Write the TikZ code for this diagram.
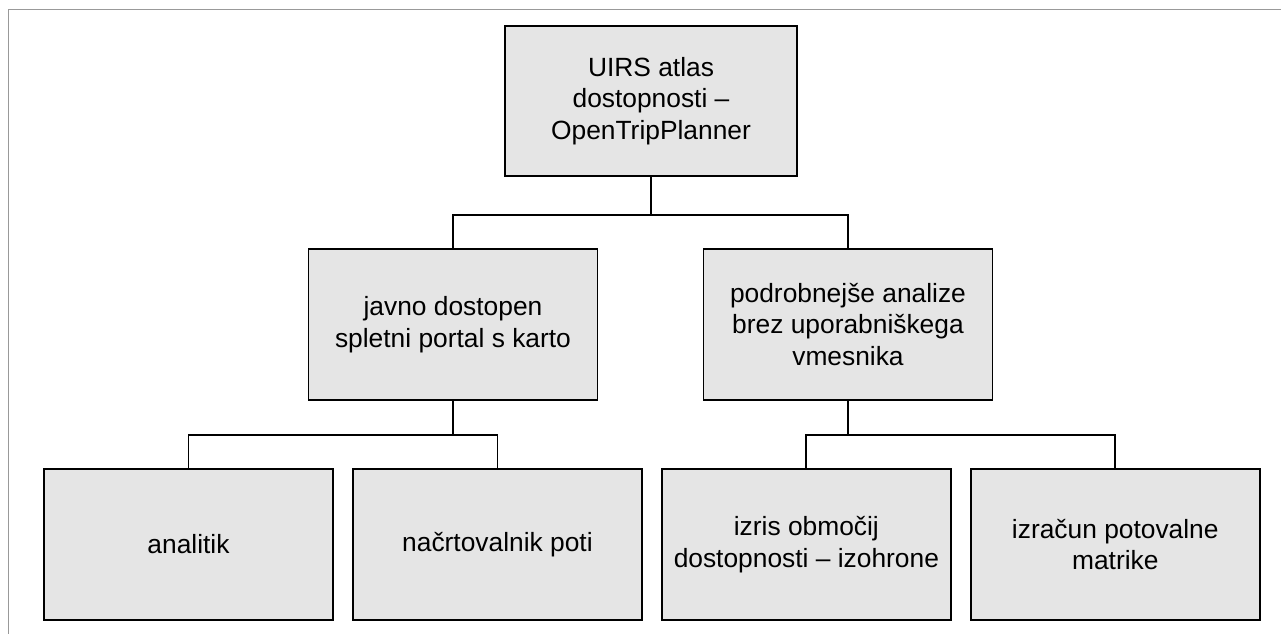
\documentclass[tikz,border=0pt]{standalone}
\usepackage{fontspec}
\setmainfont{Liberation Sans}
\usetikzlibrary{positioning}

\tikzset{
  blok/.style={rectangle, draw, line width=1.1pt, fill=black!10,
    minimum width=5.78cm, minimum height=3.02cm, align=center,
    font=\fontsize{15}{18}\selectfont},
  vez/.style={line width=1pt}
}

\begin{document}
\begin{tikzpicture}[node distance=0.36cm]
  \useasboundingbox (0,0) rectangle (25.62,-12.68);
  % frame of the figure (only top and left visible)
  \draw[black!40, line width=0.8pt] (0.17,-12.68) |- (25.62,-0.19);

  % top level
  \node[blok, minimum width=5.84cm, minimum height=3.0cm] (atlas) at (13.02,-2.02)
    {UIRS atlas\\dostopnosti --\\OpenTripPlanner};

  % second level
  \node[blok] (portal) at (9.06,-6.49) {javno dostopen\\spletni portal s karto};
  \node[blok] (analize) at (16.96,-6.49) {podrobnejše analize\\brez uporabniškega\\vmesnika};

  % third level
  \node[blok] (analitik) at (3.77,-10.89) {analitik};
  \node[blok] (nacrt) [right=of analitik] {načrtovalnik poti};
  \node[blok] (izris) [right=of nacrt] {izris območij\\dostopnosti -- izohrone};
  \node[blok] (izracun) [right=of izris] {izračun potovalne\\matrike};

  % connectors
  \draw[vez] (atlas.south) -- ++(0,-0.76) coordinate (r1);
  \draw[vez] (r1) -| (portal.north);
  \draw[vez] (r1) -| (analize.north);

  \draw[vez] (portal.south) -- ++(0,-0.68) coordinate (r2);
  \draw[vez] (r2) -| (analitik.north);
  \draw[vez] (r2) -| (nacrt.north);

  \draw[vez] (analize.south) -- ++(0,-0.68) coordinate (r3);
  \draw[vez] (r3) -| (izris.north);
  \draw[vez] (r3) -| (izracun.north);
\end{tikzpicture}
\end{document}
